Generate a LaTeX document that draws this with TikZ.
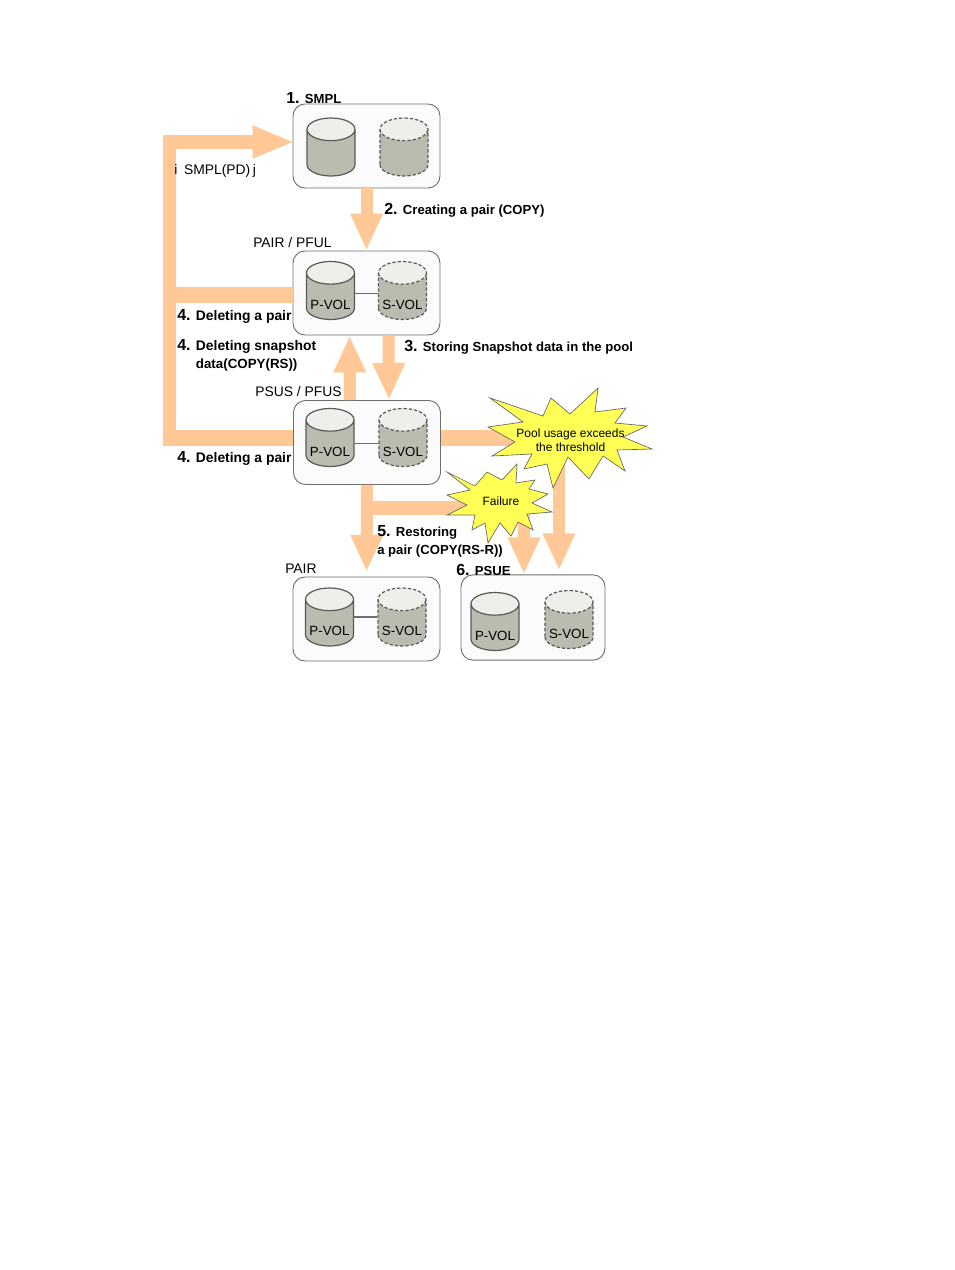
\documentclass[tikz,border=0pt]{standalone}
\usepackage{fontspec}
\setmainfont{Liberation Sans}
\usetikzlibrary{arrows.meta,shapes.geometric}

\definecolor{flowcolor}{HTML}{FFC896}
\definecolor{volbody}{HTML}{BBBBAF}
\definecolor{voltop}{HTML}{EEEFEA}
\definecolor{boxfill}{HTML}{FBFBFB}
\definecolor{boxline}{HTML}{6E6E6E}
\definecolor{burstfill}{HTML}{FFFF55}

\newcommand{\stepno}[1]{\makebox[14pt][l]{\fontsize{12}{12}\selectfont\bfseries #1.}}

\begin{document}
\begin{tikzpicture}[x=0.75pt, y=-0.75pt,
  statebox/.style={draw=boxline, fill=boxfill, rounded corners=9pt, line width=0.7pt,
    minimum width=110.25pt, minimum height=63pt},
  vol/.style={shape=cylinder, anchor=shape center, shape border rotate=90, aspect=0.5, draw=black!65, line width=0.9pt,
    cylinder uses custom fill, cylinder body fill=volbody, cylinder end fill=voltop,
    minimum width=36pt, minimum height=43.5pt, inner sep=0pt, text width=34pt},
  volname/.style={label={[yshift=-6pt, font=\fontsize{10}{12}\selectfont]center:#1}},
  svol/.style={vol, dash pattern=on 2.5pt off 1.5pt},
  flow/.style={draw=flowcolor, line width=9pt, -{Triangle[length=27.75pt,width=22.5pt]}},
  flowplain/.style={draw=flowcolor, line width=12pt},
  burst/.style={draw=black!60, fill=burstfill, line width=0.5pt, line join=miter},
  bold/.style={anchor=west, inner sep=0pt, font=\fontsize{9.85}{13.5}\selectfont\bfseries, align=left},
  boldwide/.style={bold, font=\fontsize{10.4}{13.5}\selectfont\bfseries},
  plain/.style={anchor=west, inner sep=0pt, font=\fontsize{10.4}{12}\selectfont}]

\useasboundingbox (0,0) rectangle (954,1270);

\node[statebox] (smpl) at (366.5,146) {};
\node[statebox] (pful) at (366.5,293) {};
\node[statebox] (psus) at (367,442.5) {};
\node[statebox] (pair) at (366.5,619) {};
\node[statebox, minimum width=108pt, minimum height=64pt] (psue) at (533,617.5) {};

\coordinate (tl) at (163,142);
\coordinate (ml) at (163,295);
\coordinate (bl) at (163,437.5);
\coordinate (vtop) at (169.5,135);
\coordinate (vbot) at (169.5,446);
\coordinate (pool) at (559,437.5);
\coordinate (fail) at (524,508);

\draw[flowplain, line width=9.75pt] (vbot) -- (vtop);
\draw[flowplain] (ml -| pful.west) -- (ml);
\draw[flowplain] (bl -| psus.west) -- (bl);
\draw[flow, line width=10.5pt, -{Triangle[length=31.5pt,width=22.5pt]}, shorten >=-1.5pt] (tl) -- (tl -| smpl.west);

\draw[flow] (smpl.south) -- (pful.north);
\draw[flow] ([xshift=16.5pt]pful.south) -- ([xshift=16.5pt]psus.north);
\draw[flow] ([xshift=-12.75pt]psus.north) -- ([xshift=-12.75pt]pful.south);
\draw[flow, shorten >=3.5pt] (psus.south) -- (pair.north);
\draw[flowplain, line width=10.5pt] (fail -| psus.south) -- (fail);
\draw[flowplain] (pool -| psus.east) -- (pool);
\draw[flow, shorten >=3pt] (pool) -- (pool |- psue.north);
\draw[flow] (fail) -- (fail |- psue.north);

\node[vol] (smplP) at (331,147) {};
\node[svol] (smplS) at (404,147) {};
\node[vol, volname=P-VOL] (pfulP) at (330.5,290.5) {};
\node[svol, volname=S-VOL] (pfulS) at (402.5,290.5) {};
\node[vol, volname=P-VOL] (psusP) at (330,437.5) {};
\node[svol, volname=S-VOL] (psusS) at (403,437.5) {};
\node[vol, volname=P-VOL] (pairP) at (329.5,617) {};
\node[svol, volname=S-VOL] (pairS) at (402,617) {};
\node[vol, volname=P-VOL] (psueP) at (495,621.5) {};
\node[svol, volname=S-VOL] (psueS) at (569,619.5) {};

\draw[boxline, line width=0.8pt] ([yshift=2.5pt]pfulP.east) -- ([yshift=2.5pt]pfulS.west);
\draw[boxline, line width=0.8pt] (psusP.east) -- (psusS.west);
\draw[boxline, line width=0.8pt] ([yshift=4.5pt]pairP.east) -- ([yshift=4.5pt]pairS.west);

\draw[burst] (490,398) -- (543,416) -- (551,398) -- (570,414) -- (598,388) -- (595,412)
  -- (626,408) -- (615,423) -- (647,426) -- (623,437) -- (652,449) -- (617,450)
  -- (625,471) -- (603,456) -- (589,479) -- (568,457) -- (553,488) -- (547,464)
  -- (524,469) -- (532,454) -- (492,456) -- (515,442) -- (488,427) -- (523,422) -- cycle;
\draw[burst] (447,472) -- (475,486) -- (487,472) -- (502,480) -- (517,464) -- (516,483)
  -- (535,480) -- (529,489) -- (548,494) -- (532,503) -- (552,512) -- (527,514)
  -- (533,530) -- (518,522) -- (511,536) -- (500,523) -- (488,543) -- (485,523)
  -- (472,530) -- (475,515) -- (447,515) -- (467,505) -- (447,495) -- (470,490) -- cycle;

\node[font=\fontsize{9}{10.5}\selectfont, align=center, inner sep=0pt] (poolText) at (570.5,440) {Pool usage exceeds\\the threshold};
\node[font=\fontsize{9}{11}\selectfont, inner sep=0pt] (failText) at (501,501) {Failure};

\node[bold] (lbl1) at (286,97.7) {\stepno{1}SMPL};
\node[bold] (lbl2) at (384,210.7) {\stepno{2}Creating a pair (COPY)};
\node[bold] (lbl3) at (404,347) {\stepno{3}Storing Snapshot data in the pool};
\node[boldwide] (lbl4a) at (177,316.7) {\stepno{4}Deleting a pair};
\node[boldwide] (lbl4b) at (177,355.7) {\stepno{4}Deleting snapshot\\\hspace*{14pt}\fontsize{10}{13.5}\selectfont data(COPY(RS))};
\node[boldwide] (lbl4c) at (177,458.7) {\stepno{4}Deleting a pair};
\node[bold] (lbl5) at (377,541.2) {\stepno{5}Restoring\\a pair (COPY(RS-R))};
\node[bold] (lbl6) at (456,569.7) {\stepno{6}PSUE};

\node[plain] (lblPd) at (174,170.7) {i\hspace{5pt}SMPL(PD)\hspace{2pt}j};
\node[plain] (lblPful) at (253,242.7) {PAIR / PFUL};
\node[plain] (lblPfus) at (255,391.7) {PSUS / PFUS};
\node[plain] (lblPair) at (285,568.7) {PAIR};

\end{tikzpicture}
\end{document}
